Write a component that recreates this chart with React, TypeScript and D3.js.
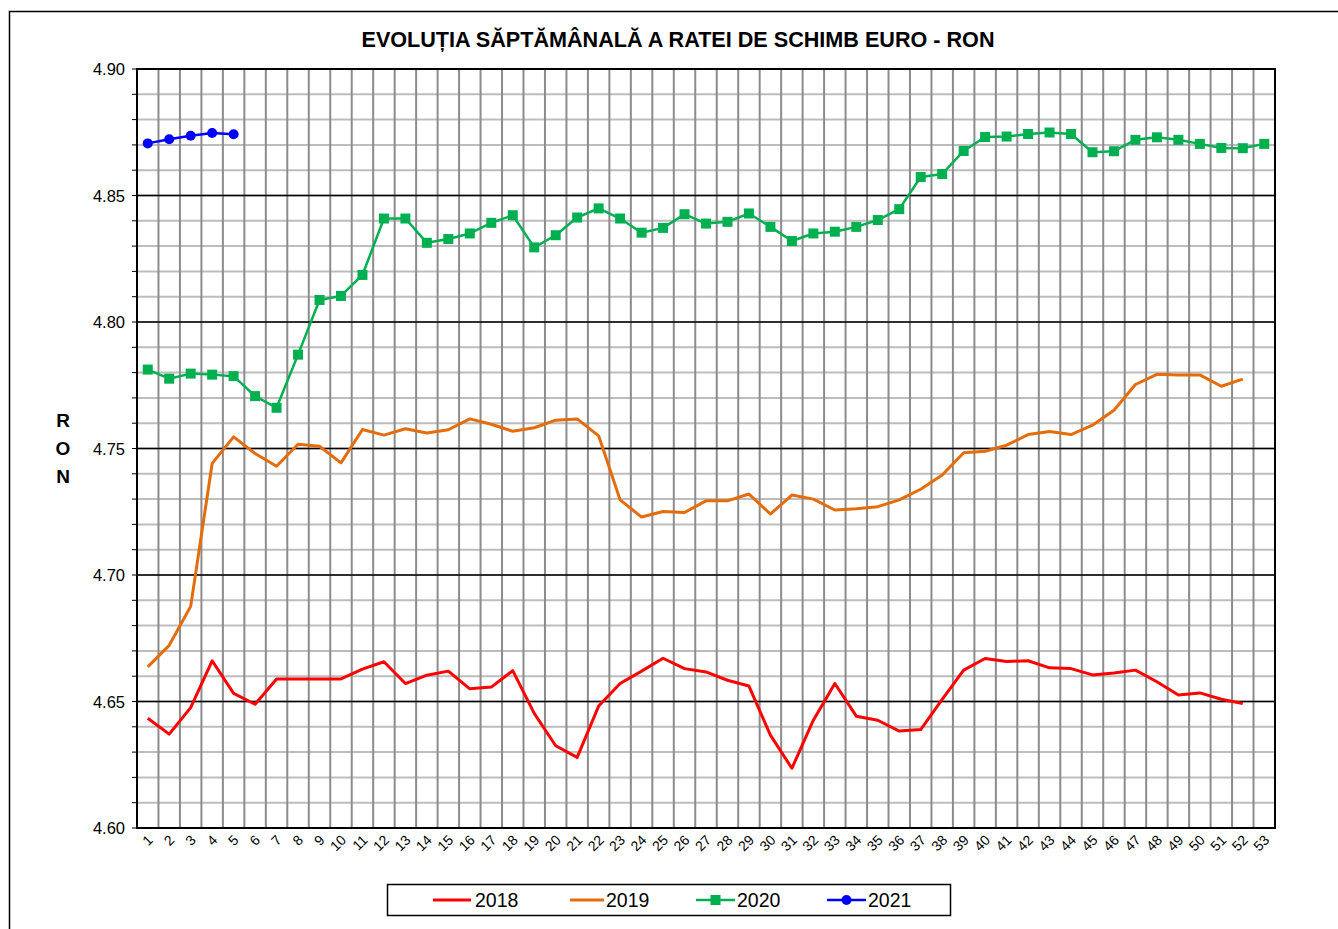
import React from "react"
import * as d3 from "d3"

const weeks = [
  1, 2, 3, 4, 5, 6, 7, 8, 9, 10, 11, 12, 13, 14, 15, 16, 17, 18, 19, 20, 21, 22, 23, 24, 25, 26, 27,
  28, 29, 30, 31, 32, 33, 34, 35, 36, 37, 38, 39, 40, 41, 42, 43, 44, 45, 46, 47, 48, 49, 50, 51, 52, 53
]

const rates2018 = [
  4.6434, 4.6371, 4.6476, 4.6661, 4.6532, 4.6489, 4.6589, 4.6589, 4.6589, 4.6589, 4.6628, 4.6657,
  4.6571, 4.6604, 4.662, 4.655, 4.6557, 4.6622, 4.6453, 4.6325, 4.6279, 4.6482, 4.6571, 4.662,
  4.6671, 4.663, 4.6617, 4.6584, 4.6561, 4.6367, 4.6236, 4.6426, 4.6571, 4.6442, 4.6426, 4.6383,
  4.6389, 4.6508, 4.6624, 4.667, 4.6658, 4.6661, 4.6633, 4.663, 4.6605, 4.6613, 4.6624, 4.6578,
  4.6526, 4.6534, 4.6509, 4.6492
]

const rates2019 = [
  4.6637, 4.6722, 4.6876, 4.7441, 4.7546, 4.748, 4.743, 4.7517, 4.7509, 4.7443, 4.7575, 4.7553,
  4.7578, 4.7561, 4.7574, 4.7617, 4.7596, 4.7568, 4.7582, 4.7612, 4.7617, 4.755, 4.7297, 4.7229,
  4.7251, 4.7247, 4.7293, 4.7293, 4.732, 4.7241, 4.7316, 4.73, 4.7257, 4.7262, 4.727, 4.7297,
  4.7339, 4.7395, 4.7483, 4.7489, 4.7513, 4.7555, 4.7567, 4.7555, 4.7592, 4.7651, 4.7753, 4.7793,
  4.7791, 4.7791, 4.7746, 4.7774
]

const rates2020 = [
  4.7812, 4.7776, 4.7796, 4.7792, 4.7786, 4.7707, 4.7661, 4.7871, 4.8087, 4.8103, 4.8186, 4.8409,
  4.8409, 4.8313, 4.8328, 4.835, 4.8392, 4.8422, 4.8295, 4.8343, 4.8413, 4.8449, 4.8409, 4.8353,
  4.8372, 4.8426, 4.8389, 4.8396, 4.8429, 4.8376, 4.832, 4.835, 4.8357, 4.8376, 4.8403, 4.8446,
  4.8573, 4.8585, 4.8676, 4.8731, 4.8733, 4.8743, 4.8749, 4.8743, 4.8671, 4.8675, 4.872, 4.873,
  4.872, 4.8704, 4.8688, 4.8687, 4.8704
]

const rates2021 = [4.8706, 4.8722, 4.8736, 4.8747, 4.8742]

const series = [
  { name: "2018", values: rates2018, color: "#FF0000", width: 3, marker: "none" },
  { name: "2019", values: rates2019, color: "#E46C0A", width: 3, marker: "none" },
  { name: "2020", values: rates2020, color: "#00B050", width: 2.5, marker: "square" },
  { name: "2021", values: rates2021, color: "#0000FF", width: 2.5, marker: "circle" }
]

const W = 1338
const H = 929
const plot = { left: 137, top: 69, right: 1275, bottom: 828 }
const font = "'Liberation Sans', Arial, sans-serif"

// legend layout
const legendItems = [
  { x1: 433, x2: 471, tx: 475 },
  { x1: 570, x2: 604, tx: 606 },
  { x1: 696, x2: 735, tx: 737 },
  { x1: 827, x2: 866, tx: 868 }
]

const Marker = ({ kind, cx, cy, color }: { kind: string; cx: number; cy: number; color: string }) => {
  if (kind === "square") return <rect x={cx - 5} y={cy - 5} width={10} height={10} fill={color} />
  if (kind === "circle") return <circle cx={cx} cy={cy} r={5} fill={color} />
  return null
}

export default function App() {
  const x = d3.scaleBand<number>().domain(weeks).range([plot.left, plot.right]).padding(0)
  const y = d3.scaleLinear().domain([4.6, 4.9]).range([plot.bottom, plot.top])
  const cx = (w: number) => (x(w) as number) + x.bandwidth() / 2

  const minorTicks = y.ticks(30)
  const majorTicks = y.ticks(6)
  const fmt = d3.format(".2f")

  const line = d3
    .line<number>()
    .x((_, i) => cx(weeks[i]))
    .y(d => y(d))

  return (
    <svg
      width={W}
      height={H}
      style={{ position: "absolute", left: 0, top: 0, background: "white" }}
      fontFamily={font}
    >
      <rect x={0} y={0} width={W} height={H} fill="white" />
      <rect x={9.5} y={11.5} width={W + 20} height={H + 20} fill="none" stroke="#000" strokeWidth={1.5} />

      <text x={678} y={47} textAnchor="middle" fontSize={21.6} fontWeight="bold" fill="#000">
        EVOLUȚIA SĂPTĂMÂNALĂ A RATEI DE SCHIMB EURO - RON
      </text>

      {/* minor horizontal grid */}
      {minorTicks.map(t => (
        <line key={"m" + t} x1={plot.left} x2={plot.right} y1={y(t)} y2={y(t)} stroke="#BDBDBD" strokeWidth={2} />
      ))}
      {/* vertical grid */}
      {weeks.slice(1).map(w => (
        <line key={"v" + w} x1={x(w)} x2={x(w)} y1={plot.top} y2={plot.bottom} stroke="#8C8C8C" strokeWidth={2} />
      ))}
      {/* major horizontal grid */}
      {majorTicks.map(t => (
        <line key={"M" + t} x1={plot.left} x2={plot.right} y1={y(t)} y2={y(t)} stroke="#000" strokeWidth={1.5} />
      ))}
      <rect
        x={plot.left}
        y={plot.top}
        width={plot.right - plot.left}
        height={plot.bottom - plot.top}
        fill="none"
        stroke="#000"
        strokeWidth={2}
      />

      {/* y ticks + labels */}
      {minorTicks.map(t => (
        <line key={"t" + t} x1={plot.left - 5} x2={plot.left} y1={y(t)} y2={y(t)} stroke="#000" strokeWidth={1} />
      ))}
      {majorTicks.map(t => (
        <text key={"l" + t} x={125} y={y(t) + 6} textAnchor="end" fontSize={16.5} fill="#000">
          {fmt(t)}
        </text>
      ))}

      {/* y title */}
      {["R", "O", "N"].map((c, i) => (
        <text key={c} x={63} y={427 + i * 28} textAnchor="middle" fontSize={19} fontWeight="bold" fill="#000">
          {c}
        </text>
      ))}

      {/* x labels */}
      {weeks.map(w => (
        <text
          key={"x" + w}
          transform={`translate(${cx(w) + 6},${841}) rotate(-45)`}
          textAnchor="end"
          fontSize={14}
          fill="#000"
        >
          {w}
        </text>
      ))}

      {/* series */}
      {series.map(s => (
        <g key={s.name}>
          <path d={line(s.values) || ""} fill="none" stroke={s.color} strokeWidth={s.width} strokeLinejoin="round" />
          {s.values.map((v, i) => (
            <Marker key={i} kind={s.marker} cx={cx(weeks[i])} cy={y(v)} color={s.color} />
          ))}
        </g>
      ))}

      {/* legend */}
      <rect x={387.5} y={884.5} width={563} height={31} fill="white" stroke="#000" strokeWidth={1.5} />
      {series.map((s, i) => {
        const it = legendItems[i]
        return (
          <g key={"lg" + s.name}>
            <line x1={it.x1} x2={it.x2} y1={900} y2={900} stroke={s.color} strokeWidth={s.width} />
            <Marker kind={s.marker} cx={(it.x1 + it.x2) / 2} cy={900} color={s.color} />
            <text x={it.tx} y={907} fontSize={19.5} fill="#000">
              {s.name}
            </text>
          </g>
        )
      })}
    </svg>
  )
}
